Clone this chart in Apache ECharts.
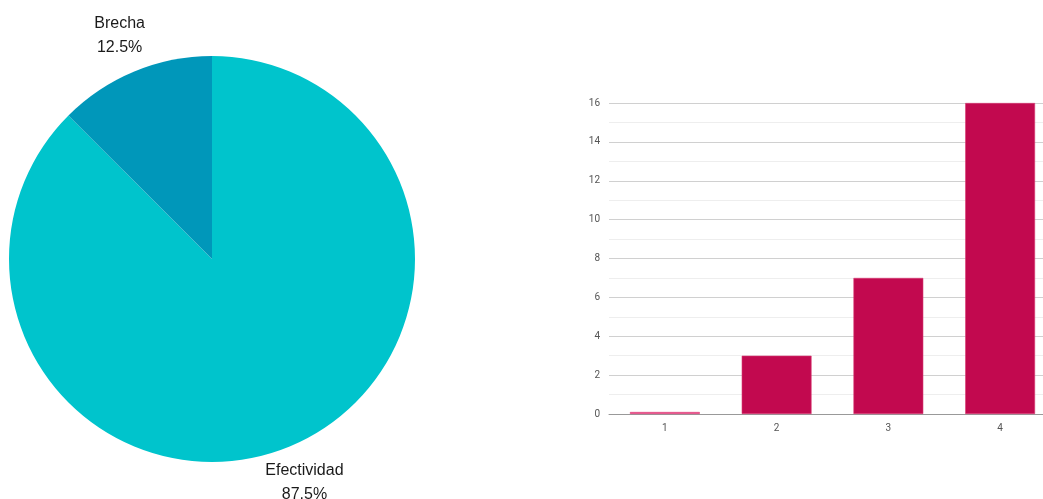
<!DOCTYPE html>
<html>
<head>
<meta charset="utf-8">
<script src="https://cdn.jsdelivr.net/npm/echarts@6/dist/echarts.min.js"></script>
<style>
  html, body { margin: 0; padding: 0; background: #fff; }
  #chart { width: 1043px; height: 499px; }
</style>
</head>
<body>
<div id="chart"></div>
<script>
// Pie: share of effectiveness vs. gap
const pieNames = ['Efectividad', 'Brecha'];
const pieValues = [87.5, 12.5];
const pieColors = ['#00c4cc', '#0097ba'];

// Bars: counts per level
const barCategories = ['1', '2', '3', '4'];
const barValues = [0, 3, 7, 16];
const yTicks = { min: 0, max: 16, interval: 2 };

const pieData = pieNames.map((n, i) => ({
  name: n,
  value: pieValues[i],
  itemStyle: { color: pieColors[i] }
}));

const chart = echarts.init(document.getElementById('chart'), null, { renderer: 'canvas' });

chart.setOption({
  animation: false,
  backgroundColor: '#ffffff',
  grid: {
    left: 609, width: 447, top: 103, bottom: 85,
    containLabel: false,
    outerBoundsMode: 'none'
  },
  xAxis: {
    type: 'category',
    data: barCategories,
    axisLine: { show: true, lineStyle: { color: '#999', width: 1 } },
    axisTick: { show: false },
    axisLabel: { color: '#555', fontSize: 10, fontFamily: 'Roboto, Arial, sans-serif', margin: 9 }
  },
  yAxis: {
    type: 'value',
    min: yTicks.min,
    max: yTicks.max,
    interval: yTicks.interval,
    axisLine: { show: false },
    axisTick: { show: false },
    axisLabel: { color: '#555', fontSize: 10, fontFamily: 'Roboto, Arial, sans-serif', margin: 9 },
    splitLine: { lineStyle: { color: '#d0d0d0', width: 1 } },
    minorTick: { show: false, splitNumber: 2 },
    minorSplitLine: { show: true, lineStyle: { color: '#eeeeee', width: 1 } }
  },
  series: [
    {
      type: 'pie',
      center: [212, 259],
      radius: 203,
      startAngle: 90,
      clockwise: true,
      label: { show: false },
      labelLine: { show: false },
      itemStyle: { borderWidth: 0 },
      emphasis: { disabled: true },
      data: pieData
    },
    {
      // transparent ring that carries the centred slice labels
      type: 'pie',
      center: [212, 259],
      radius: [226, 251],
      startAngle: 90,
      clockwise: true,
      silent: true,
      itemStyle: { color: 'rgba(0,0,0,0)' },
      label: {
        show: true,
        position: 'inside',
        formatter: '{b}\n{d}%',
        color: '#1a1a1a',
        fontSize: 16,
        lineHeight: 24,
        fontFamily: '"Liberation Sans", Arial, sans-serif',
        align: 'center'
      },
      labelLine: { show: false },
      emphasis: { disabled: true },
      data: pieNames.map((n, i) => ({ name: n, value: pieValues[i] }))
    },
    {
      type: 'bar',
      data: barValues.map(v => v === 0
        ? { value: v, itemStyle: { color: '#ee4d8b' } }
        : v),
      barCategoryGap: '37.5%',
      barMinHeight: 2,
      itemStyle: { color: '#c2094f', borderColor: '#d83a74', borderWidth: 0.6 },
      emphasis: { disabled: true }
    }
  ]
});
</script>
</body>
</html>
